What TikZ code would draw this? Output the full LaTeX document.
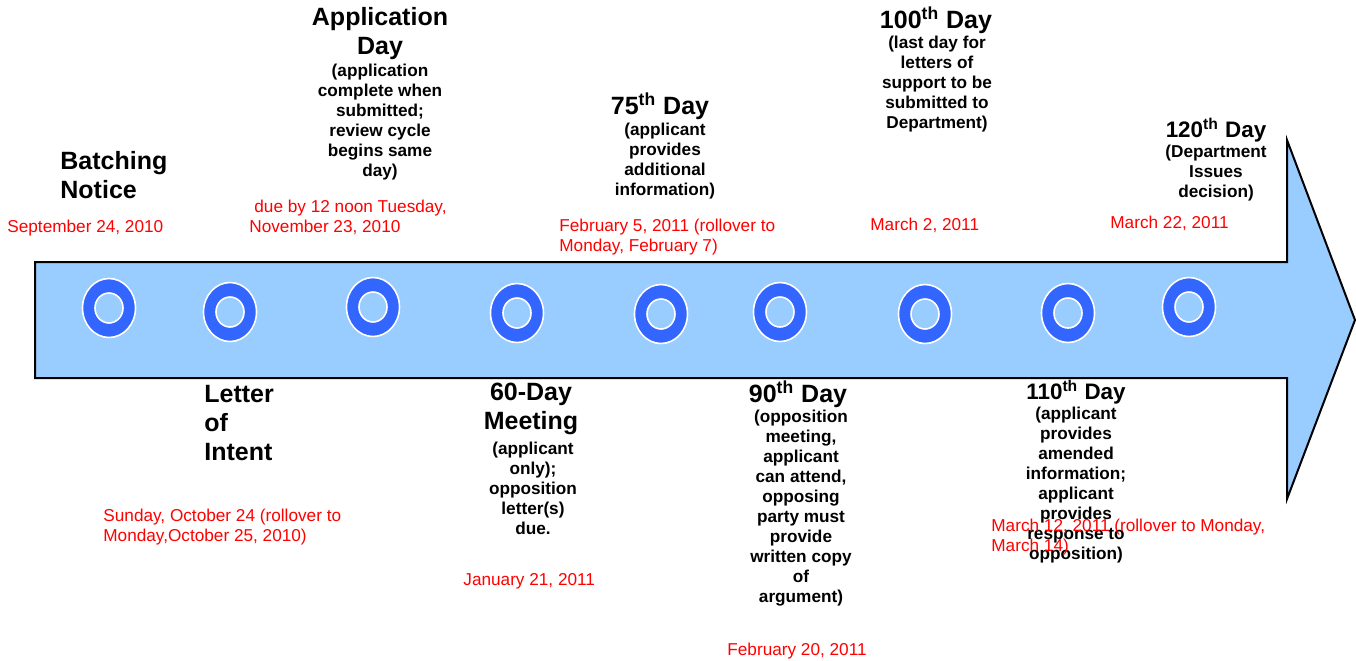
\documentclass[tikz,border=0pt]{standalone}
\usepackage{fontspec}
\setmainfont{Liberation Sans}
\definecolor{shaft}{HTML}{99CCFF}
\definecolor{ring}{HTML}{3366FF}
\tikzset{
  head/.style={font=\bfseries\fontsize{12.5}{14.3}\selectfont,align=center,inner sep=0pt},
  headsm/.style={font=\bfseries\fontsize{11.2}{13}\selectfont,align=center,inner sep=0pt},
  note/.style={font=\bfseries\fontsize{8.6}{10}\selectfont,align=center,inner sep=0pt},
  date/.style={font=\fontsize{8.6}{10}\selectfont,text=red,align=left,inner sep=0pt,anchor=west}
}
\begin{document}
\begin{tikzpicture}[x=0.5pt,y=-0.5pt]
\useasboundingbox (0,0) rectangle (1356,660);
% the time line
\draw[fill=shaft,line width=1pt] (35,262)--(1287,262)--(1287,140)--(1355,320)--(1287,499)--(1287,378)--(35,378)--cycle;
\foreach \x/\y in {109/308,230/312,373/307,517/313,661/314,780/312,925/314,1068/313,1189/307}{
  \draw[white,fill=ring,line width=0.8pt] (\x,\y) ellipse [x radius=26.5,y radius=29.5];
  \draw[white,fill=shaft,line width=0.8pt] (\x,\y) ellipse [x radius=14,y radius=15];
}

\begin{scope}[yshift=-1pt]
% above the line
\node[head,align=left,anchor=west] (batch) at (60,173) {Batching\\Notice};
\node[date] (batchdate) at (7,226) {September 24, 2010};

\node[head] (app) at (380,31.5) {Application\\Day};
\node[note] (appnote) at (380,120.5) {(application\\complete when\\submitted;\\review cycle\\begins same\\day)};
\node[date] (appdate) at (249,215) {\hspace{2.5pt}due by 12 noon Tuesday,\\November 23, 2010};

\node[head] (d75) at (660,104) {75\textsuperscript{th} Day};
\node[note] (d75note) at (665,159) {(applicant\\provides\\additional\\information)};
\node[date] (d75date) at (559,235) {February 5, 2011 (rollover to\\Monday, February 7)};

\node[head] (d100) at (936,18) {100\textsuperscript{th} Day};
\node[note] (d100note) at (937,82.5) {(last day for\\letters of\\support to be\\submitted to\\Department)};
\node[date] (d100date) at (870,223) {March 2, 2011};

\node[headsm] (d120) at (1216,128) {120\textsuperscript{th} Day};
\node[note] (d120note) at (1216,171) {(Department\\Issues\\decision)};
\node[date] (d120date) at (1110,221) {March 22, 2011};

% below the line
\node[head,align=left,anchor=west] (intent) at (204,421) {Letter\\of\\Intent};
\node[date] (intentdate) at (103,525.5) {Sunday, October 24 (rollover to\\Monday,October 25, 2010)};

\node[head] (d60) at (531,407) {60-Day\\Meeting};
\node[note] (d60note) at (533,486) {(applicant\\only);\\opposition\\letter(s)\\due.};
\node[date] (d60date) at (463,579) {January 21, 2011};

\node[head] (d90) at (798,392) {90\textsuperscript{th} Day};
\node[note] (d90note) at (801,506) {(opposition\\meeting,\\applicant\\can attend,\\opposing\\party must\\provide\\written copy\\of\\argument)};
\node[date] (d90date) at (727,649) {February 20, 2011};

\node[headsm] (d110) at (1076,390) {110\textsuperscript{th} Day};
\node[note] (d110note) at (1076,483) {(applicant\\provides\\amended\\information;\\applicant\\provides\\response to\\opposition)};
\node[date] (d110date) at (991,535) {March 12, 2011 (rollover to Monday,\\March 14)};
\end{scope}
\end{tikzpicture}
\end{document}
